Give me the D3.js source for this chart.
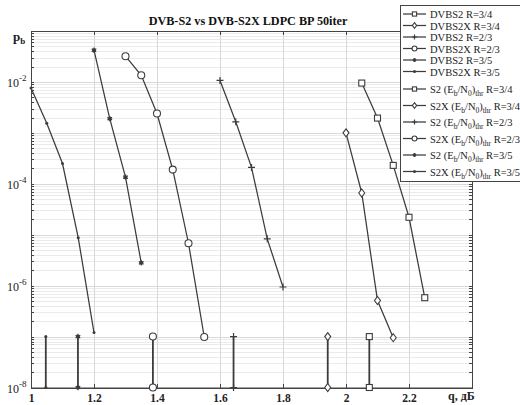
<!DOCTYPE html>
<html>
<head>
<meta charset="utf-8">
<title>DVB-S2 vs DVB-S2X LDPC BP 50iter</title>
<script src="https://cdn.jsdelivr.net/npm/d3@7"></script>
<style>
  body { margin: 0; background: #fff; }
  svg { display: block; font-family: "Liberation Serif", "Times New Roman", serif; }
  .grid line { stroke: #ebebeb; stroke-width: 1; shape-rendering: crispEdges; }
  .grid .major { stroke: #d8d8d8; }
  .axis path, .axis line { stroke: #444; shape-rendering: crispEdges; }
  .axis text { font-family: "Liberation Serif", serif; font-size: 11.5px; fill: #222; font-weight: bold; }
  .curve { fill: none; stroke: #3c3c3c; stroke-width: 1.25; }
  .stem { stroke: #3c3c3c; stroke-width: 1.8; }
  .mk { fill: #fff; stroke: #3c3c3c; stroke-width: 1.1; }
</style>
</head>
<body>
<script>
// BER curves, q in dB
var qS2_34  = [2.05, 2.10, 2.15, 2.20, 2.25];
var pS2_34  = [9.5e-3, 1.95e-3, 2.3e-4, 2.2e-5, 5.8e-7];
var qS2X_34 = [2.00, 2.05, 2.10, 2.15];
var pS2X_34 = [1.0e-3, 6.6e-5, 5.1e-7, 9.5e-8];
var qS2_23  = [1.60, 1.65, 1.70, 1.75, 1.80];
var pS2_23  = [1.07e-2, 1.65e-3, 2.1e-4, 8.3e-6, 9.4e-7];
var qS2X_23 = [1.30, 1.35, 1.40, 1.45, 1.50, 1.55];
var pS2X_23 = [3.2e-2, 1.35e-2, 2.4e-3, 1.9e-4, 6.8e-6, 9.8e-8];
var qS2_35  = [1.20, 1.25, 1.30, 1.35];
var pS2_35  = [4.2e-2, 1.9e-3, 1.35e-4, 2.8e-6];
var qS2X_35 = [1.00, 1.05, 1.10, 1.15, 1.20];
var pS2X_35 = [7.6e-3, 1.55e-3, 2.5e-4, 8.7e-6, 1.2e-7];

// thresholds (Eb/N0)thr, drawn as stems
var thrQ   = [2.074, 1.942, 1.643, 1.387, 1.149, 1.047];
var thrP   = [1e-8, 1e-7];

var markers = ["square", "diamond", "plus", "circle", "star", "point"];
var curveNames = ["DVBS2 R=3/4", "DVBS2X R=3/4", "DVBS2 R=2/3", "DVBS2X R=2/3", "DVBS2 R=3/5", "DVBS2X R=3/5"];
var thrStd   = ["S2", "S2X", "S2", "S2X", "S2", "S2X"];
var thrRate  = ["R=3/4", "R=3/4", "R=2/3", "R=2/3", "R=3/5", "R=3/5"];

var xTicks = [1, 1.2, 1.4, 1.6, 1.8, 2, 2.2];
var yLabelExp = [-2, -4, -6, -8];

var curves = [
  [qS2_34, pS2_34], [qS2X_34, pS2X_34], [qS2_23, pS2_23],
  [qS2X_23, pS2X_23], [qS2_35, pS2_35], [qS2X_35, pS2X_35]
];

var w = 520, h = 405;
var pL = 31, pR = 472, pT = 31, pB = 387.5;   // plot box

var x = d3.scaleLinear().domain([1, 2.4]).range([pL, pR]);
var y = d3.scaleLog().domain([1e-8, 1e-1]).range([pB, pT]);

var svg = d3.select("body").append("svg").attr("width", w).attr("height", h);

// minor + major grid
var minor = [];
for (var e = -8; e < -1; e++) {
  for (var k = 2; k <= 9; k++) minor.push(k * Math.pow(10, e));
}
var majors = d3.range(-8, 0).map(function(e) { return Math.pow(10, e); });
var grid = svg.append("g").attr("class", "grid");
grid.selectAll("line.minor").data(minor).enter().append("line")
  .attr("class", "minor")
  .attr("x1", pL).attr("x2", pR)
  .attr("y1", function(d) { return Math.round(y(d)) + 0.5; })
  .attr("y2", function(d) { return Math.round(y(d)) + 0.5; });
grid.selectAll("line.majh").data(majors).enter().append("line")
  .attr("class", "major")
  .attr("x1", pL).attr("x2", pR)
  .attr("y1", function(d) { return Math.round(y(d)) + 0.5; })
  .attr("y2", function(d) { return Math.round(y(d)) + 0.5; });
grid.selectAll("line.majv").data(xTicks.slice(1)).enter().append("line")
  .attr("class", "major")
  .attr("y1", pT).attr("y2", pB)
  .attr("x1", function(d) { return Math.round(x(d)) + 0.5; })
  .attr("x2", function(d) { return Math.round(x(d)) + 0.5; });

// axes
var xAxis = d3.axisBottom(x).tickValues(xTicks).tickSize(-4).tickPadding(6)
  .tickFormat(function(d) { return d3.format("")(d); });
svg.append("g").attr("class", "axis")
  .attr("transform", "translate(0," + pB + ")")
  .call(xAxis);
svg.append("g").attr("class", "axis")
  .attr("transform", "translate(0," + pT + ")")
  .call(d3.axisTop(x).tickValues(xTicks).tickSize(-4).tickFormat(""));

var yTickVals = majors.concat(minor);
svg.append("g").attr("class", "axis")
  .attr("transform", "translate(" + pL + ",0)")
  .call(d3.axisLeft(y).tickValues(yTickVals).tickFormat("")
    .tickSizeInner(-3).tickSizeOuter(0));
svg.append("g").attr("class", "axis")
  .attr("transform", "translate(" + pR + ",0)")
  .call(d3.axisRight(y).tickValues(yTickVals).tickFormat("")
    .tickSizeInner(-3).tickSizeOuter(0));
// frame
svg.append("rect").attr("x", pL + 0.5).attr("y", pT + 0.5)
  .attr("width", pR - pL).attr("height", pB - pT)
  .attr("fill", "none").attr("stroke", "#444");

// y labels 10^e
var yl = svg.append("g").selectAll("text").data(yLabelExp).enter().append("text")
  .attr("x", 7).attr("y", function(d) { return y(Math.pow(10, d)) + 5; })
  .style("font-size", "12px").style("fill", "#222");
yl.append("tspan").text("10");
yl.append("tspan").attr("dy", -6).style("font-size", "9px")
  .text(function(d) { return String(d); });

svg.append("text").attr("x", 448).attr("y", 400)
  .style("font-size", "12px").style("font-weight", "bold").style("fill", "#222")
  .text("q, дБ");

var pb = svg.append("text").attr("x", 13).attr("y", 41)
  .style("font-size", "13px").style("font-weight", "bold").style("fill", "#222");
pb.append("tspan").text("p");
pb.append("tspan").attr("dy", 3).style("font-size", "9px").text("b");

svg.append("text").attr("x", 248).attr("y", 25).attr("text-anchor", "middle")
  .style("font-size", "12.2px").style("font-weight", "bold").style("fill", "#111")
  .text("DVB-S2 vs DVB-S2X LDPC BP 50iter");

// marker drawing, s = scale
function drawMarker(g, type, cx, cy, s) {
  s = s || 1;
  if (type === "square") {
    g.append("rect").attr("class", "mk").attr("x", cx - 3 * s).attr("y", cy - 3 * s)
      .attr("width", 6 * s).attr("height", 6 * s);
  } else if (type === "diamond") {
    g.append("path").attr("class", "mk")
      .attr("d", "M" + cx + "," + (cy - 4 * s) + "L" + (cx + 3 * s) + "," + cy + "L" + cx + "," + (cy + 4 * s) + "L" + (cx - 3 * s) + "," + cy + "Z");
  } else if (type === "circle") {
    g.append("circle").attr("class", "mk").attr("cx", cx).attr("cy", cy).attr("r", 3.5 * s);
  } else if (type === "plus") {
    g.append("path").attr("class", "mk").style("stroke-width", 1.2)
      .attr("d", "M" + (cx - 3.5 * s) + "," + cy + "H" + (cx + 3.5 * s) + "M" + cx + "," + (cy - 3.5 * s) + "V" + (cy + 3.5 * s));
  } else if (type === "star") {
    g.append("path").attr("class", "mk").style("stroke-width", 1.2)
      .attr("d", d3.symbol().type(d3.symbolAsterisk).size(20 * s * s)())
      .attr("transform", "translate(" + cx + "," + cy + ")");
    g.append("circle").attr("cx", cx).attr("cy", cy).attr("r", 2 * s).attr("fill", "#3c3c3c");
  } else {
    g.append("circle").attr("cx", cx).attr("cy", cy).attr("r", 1.5).attr("fill", "#3c3c3c");
  }
}

var line = d3.line().x(function(d) { return x(d[0]); }).y(function(d) { return y(d[1]); });

var plot = svg.append("g");
curves.forEach(function(c, i) {
  var pts = d3.zip(c[0], c[1]);
  plot.append("path").datum(pts).attr("class", "curve").attr("d", line);
  pts.forEach(function(p) { drawMarker(plot, markers[i], x(p[0]), y(p[1])); });
});

thrQ.forEach(function(q, i) {
  plot.append("line").attr("class", "stem")
    .attr("x1", x(q)).attr("x2", x(q))
    .attr("y1", y(thrP[0])).attr("y2", y(thrP[1]));
  thrP.forEach(function(p) { drawMarker(plot, markers[i], x(q), y(p)); });
});

// legend
var lg = svg.append("g");
lg.append("rect").attr("x", 400.5).attr("y", 5.5).attr("width", 130).attr("height", 176)
  .attr("fill", "#fff").attr("stroke", "#444");
var rowsY = [14, 25.5, 37, 48.5, 60, 71.5, 89, 105.5, 122, 138.5, 155, 171.5];
for (var i = 0; i < 12; i++) {
  var ry = rowsY[i];
  var mk = markers[i % 6];
  lg.append("line").attr("class", "curve").attr("x1", 403).attr("x2", 426)
    .attr("y1", ry).attr("y2", ry);
  drawMarker(lg, mk, 414.5, ry, 0.7);
  var t = lg.append("text").attr("x", 430).attr("y", ry + 4)
    .style("font-size", "10.5px").style("fill", "#222");
  if (i < 6) {
    t.text(curveNames[i]);
  } else {
    var j = i - 6;
    t.append("tspan").text(thrStd[j] + " (E");
    t.append("tspan").attr("dy", 3).style("font-size", "7.5px").text("b");
    t.append("tspan").attr("dy", -3).text("/N");
    t.append("tspan").attr("dy", 3).style("font-size", "7.5px").text("0");
    t.append("tspan").attr("dy", -3).text(")");
    t.append("tspan").attr("dy", 3).style("font-size", "7.5px").text("thr");
    t.append("tspan").attr("dy", -3).text(" " + thrRate[j]);
  }
}
</script>
</body>
</html>
